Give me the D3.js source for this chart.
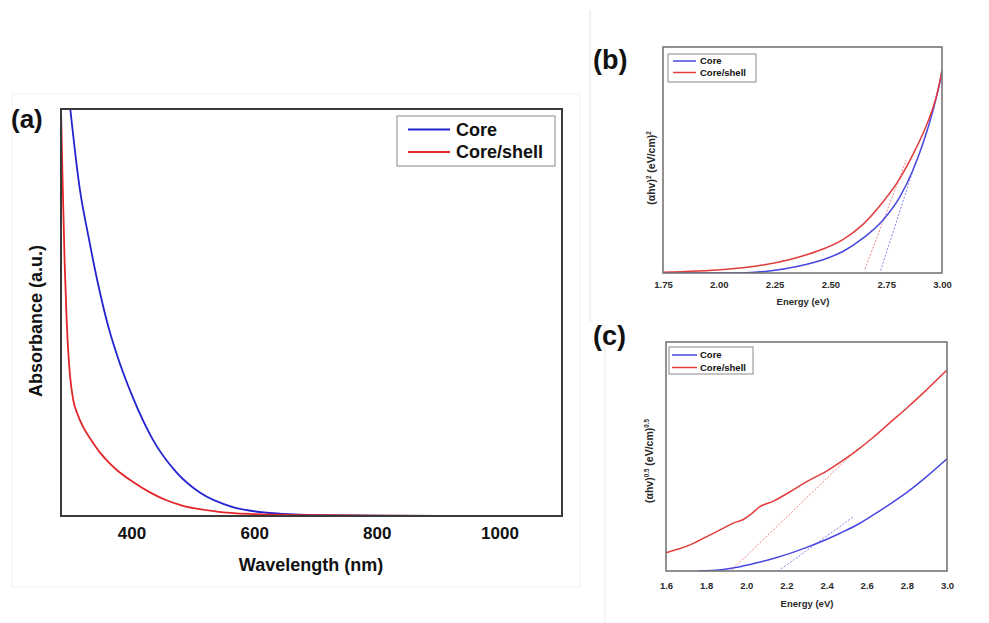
<!DOCTYPE html>
<html>
<head>
<meta charset="utf-8">
<script src="https://cdn.jsdelivr.net/npm/d3@7"></script>
<style>
  html, body { margin: 0; padding: 0; background: #fff; }
  svg { display: block; font-family: "Liberation Sans", Arial, sans-serif; }
</style>
</head>
<body>
<svg id="fig" width="989" height="623"></svg>
<script>
// ---- (a) UV-Vis absorbance spectra ----
const wlTicks = [400, 600, 800, 1000];
const coreWl  = [298, 316, 330, 344, 365, 376, 402, 435, 474, 512, 565, 621, 647, 700, 800, 900];
const coreAbs = [1.03, 0.80, 0.685, 0.58, 0.45, 0.397, 0.292, 0.187, 0.106, 0.057, 0.022, 0.008, 0.005, 0.002, 0.001, 0.0];
const shellWl  = [285, 288, 291, 294, 297, 300, 305, 312, 321, 335, 349, 362, 376, 402, 430, 458, 484, 539, 593, 675, 800, 900];
const shellAbs = [1.0, 0.80, 0.62, 0.49, 0.40, 0.34, 0.285, 0.25, 0.219, 0.185, 0.155, 0.133, 0.113, 0.084, 0.058, 0.038, 0.025, 0.011, 0.005, 0.002, 0.001, 0.0];

// ---- (b) Tauc plot, (αhν)^2 ----
const bTicks = [1.75, 2.00, 2.25, 2.50, 2.75, 3.00];
const bCoreE  = [1.75, 2.095, 2.243, 2.35, 2.467, 2.556, 2.646, 2.736, 2.812, 2.87, 2.915, 2.96, 3.0];
const bCoreY  = [0, 0.0, 0.011, 0.029, 0.059, 0.095, 0.154, 0.235, 0.338, 0.456, 0.574, 0.72, 0.883];
const bShellE = [1.75, 2.019, 2.171, 2.319, 2.40, 2.467, 2.556, 2.646, 2.736, 2.812, 2.87, 2.933, 2.977, 3.0];
const bShellY = [0.003, 0.015, 0.031, 0.060, 0.083, 0.106, 0.148, 0.215, 0.315, 0.42, 0.525, 0.66, 0.79, 0.897];
const bCoreFit  = [[2.725, 0.011], [2.885, 0.50]];
const bShellFit = [[2.655, 0.018], [2.84, 0.50]];

// ---- (c) Tauc plot, (αhν)^0.5 ----
const cTicks = [1.6, 1.8, 2.0, 2.2, 2.4, 2.6, 2.8, 3.0];
const cCoreE  = [1.76, 1.886, 1.969, 2.052, 2.135, 2.218, 2.301, 2.384, 2.467, 2.55, 2.633, 2.716, 2.8, 2.882, 3.0];
const cCoreY  = [0, 0.007, 0.019, 0.036, 0.055, 0.077, 0.103, 0.132, 0.165, 0.201, 0.245, 0.292, 0.343, 0.40, 0.49];
const cShellE = [1.6, 1.72, 1.803, 1.886, 1.935, 1.985, 2.019, 2.068, 2.135, 2.218, 2.301, 2.4, 2.483, 2.55, 2.633, 2.716, 2.8, 2.882, 3.0];
const cShellY = [0.080, 0.114, 0.150, 0.187, 0.209, 0.225, 0.245, 0.281, 0.305, 0.346, 0.390, 0.436, 0.484, 0.526, 0.584, 0.648, 0.712, 0.778, 0.878];
const cCoreFit  = [[2.159, 0.0], [2.534, 0.237]];
const cShellFit = [[1.927, 0.004], [2.558, 0.537]];

const seriesNames = ["Core", "Core/shell"];

const svg = d3.select("#fig");
const zip = (xs, ys) => xs.map((x, i) => [x, ys[i]]);

// faint page frames
svg.append("rect").attr("x", 12).attr("y", 94).attr("width", 568).attr("height", 493)
  .attr("fill", "none").attr("stroke", "#efefef").attr("stroke-width", 1);
svg.append("line").attr("x1", 590).attr("x2", 590).attr("y1", 10).attr("y2", 322)
  .attr("stroke", "#e2e2e2");
svg.append("line").attr("x1", 605).attr("x2", 605).attr("y1", 325).attr("y2", 623)
  .attr("stroke", "#ececec");

function panel(cfg) {
  const x = d3.scaleLinear().domain(cfg.xDomain).range([cfg.left, cfg.right]);
  const y = d3.scaleLinear().domain(cfg.yDomain).range([cfg.bottom, cfg.top]);
  const g = svg.append("g");
  const clipId = "clip-" + cfg.id;
  g.append("clipPath").attr("id", clipId).append("rect")
    .attr("x", cfg.left).attr("y", cfg.top)
    .attr("width", cfg.right - cfg.left).attr("height", cfg.bottom - cfg.top);

  const line = d3.line().x(d => x(d[0])).y(d => y(d[1])).curve(d3.curveMonotoneX);
  const plot = g.append("g").attr("clip-path", `url(#${clipId})`);

  (cfg.fits || []).forEach(f => {
    plot.append("path").datum(f.pts)
      .attr("d", d3.line().x(d => x(d[0])).y(d => y(d[1])))
      .attr("fill", "none").attr("stroke", f.color).attr("stroke-width", 1)
      .attr("stroke-dasharray", "2,1.6").attr("opacity", 0.75);
  });
  cfg.series.forEach(s => {
    plot.append("path").datum(s.pts).attr("d", line)
      .attr("fill", "none").attr("stroke", s.color).attr("stroke-width", cfg.lw)
      .attr("stroke-linejoin", "round");
  });

  // frame
  g.append("rect").attr("x", cfg.left).attr("y", cfg.top)
    .attr("width", cfg.right - cfg.left).attr("height", cfg.bottom - cfg.top)
    .attr("fill", "none").attr("stroke", cfg.frameColor).attr("stroke-width", cfg.frameWidth);

  // x axis labels (no tick marks)
  const ax = d3.axisBottom(x).tickValues(cfg.ticks).tickSize(0).tickFormat(cfg.fmt);
  const axG = g.append("g").attr("transform", `translate(0,${cfg.bottom})`).call(ax);
  axG.select(".domain").remove();
  axG.selectAll("text").attr("dy", null).attr("y", cfg.tickY - cfg.bottom)
    .attr("font-family", "Liberation Sans, Arial, sans-serif")
    .attr("font-size", cfg.tickSize).attr("font-weight", "bold").attr("fill", cfg.textColor);

  // axis titles
  g.append("text").attr("x", cfg.xTitlePos[0]).attr("y", cfg.xTitlePos[1])
    .attr("text-anchor", "middle").attr("font-size", cfg.titleSize).attr("font-weight", "bold")
    .attr("fill", cfg.textColor).text(cfg.xTitle);
  const yt = g.append("text")
    .attr("transform", `translate(${cfg.yTitlePos[0]},${cfg.yTitlePos[1]}) rotate(-90)`)
    .attr("text-anchor", "middle").attr("font-size", cfg.yTitleSize).attr("font-weight", "bold")
    .attr("fill", cfg.textColor);
  cfg.yTitle.forEach(part => {
    const t = yt.append("tspan").text(part.t);
    if (part.sup) t.attr("dy", -cfg.yTitleSize * 0.4).attr("font-size", cfg.yTitleSize * 0.6);
    else if (part.after) t.attr("dy", cfg.yTitleSize * 0.4);
  });

  // panel letter
  g.append("text").attr("x", cfg.letterPos[0]).attr("y", cfg.letterPos[1])
    .attr("font-size", cfg.letterSize).attr("font-weight", "bold").attr("fill", "#111")
    .text(cfg.letter);

  // legend
  const L = cfg.legend;
  g.append("rect").attr("x", L.x).attr("y", L.y).attr("width", L.w).attr("height", L.h)
    .attr("fill", "#fff").attr("stroke", "#8a8a8a").attr("stroke-width", 1);
  cfg.series.forEach((s, i) => {
    const ly = L.rowY[i];
    g.append("line").attr("x1", L.lx1).attr("x2", L.lx2).attr("y1", ly).attr("y2", ly)
      .attr("stroke", s.color).attr("stroke-width", cfg.lw);
    g.append("text").attr("x", L.tx).attr("y", ly + L.fs * 0.36)
      .attr("font-size", L.fs).attr("font-weight", "bold").attr("fill", "#111")
      .text(seriesNames[i]);
  });
}

panel({
  id: "a", left: 61, right: 562, top: 109, bottom: 516,
  xDomain: [285, 1102], yDomain: [0, 1],
  ticks: wlTicks, fmt: d3.format("d"), tickY: 539, tickSize: 17,
  lw: 1.8, frameColor: "#3a3a3a", frameWidth: 2, textColor: "#111",
  series: [
    { pts: zip(coreWl, coreAbs), color: "#2323cf" },
    { pts: zip(shellWl, shellAbs), color: "#e3262a" }
  ],
  xTitle: "Wavelength (nm)", xTitlePos: [311, 571], titleSize: 18,
  yTitle: [{ t: "Absorbance (a.u.)" }], yTitlePos: [42, 321], yTitleSize: 18,
  letter: "(a)", letterPos: [11, 128], letterSize: 26,
  legend: { x: 397, y: 116, w: 158, h: 50, lx1: 408, lx2: 450, tx: 456, rowY: [129.5, 152], fs: 18 }
});

panel({
  id: "b", left: 663, right: 942, top: 47, bottom: 273,
  xDomain: [1.75, 3.0], yDomain: [0, 1],
  ticks: bTicks, fmt: d3.format(".2f"), tickY: 288, tickSize: 9.5,
  lw: 1.5, frameColor: "#6e6e6e", frameWidth: 1.5, textColor: "#2a2a2a",
  series: [
    { pts: zip(bCoreE, bCoreY), color: "#4747df" },
    { pts: zip(bShellE, bShellY), color: "#e23c3c" }
  ],
  fits: [
    { pts: bCoreFit, color: "#5a5ae8" },
    { pts: bShellFit, color: "#ea5a5a" }
  ],
  xTitle: "Energy (eV)", xTitlePos: [803, 305], titleSize: 9.5,
  yTitle: [{ t: "(αhv)" }, { t: "2", sup: true }, { t: " (eV/cm)", after: true }, { t: "2", sup: true }],
  yTitlePos: [655, 168], yTitleSize: 10.5,
  letter: "(b)", letterPos: [593, 69], letterSize: 27,
  legend: { x: 668, y: 54, w: 88, h: 28, lx1: 673, lx2: 696, tx: 700, rowY: [61, 72.5], fs: 9.5 }
});

panel({
  id: "c", left: 666, right: 947, top: 342, bottom: 571,
  xDomain: [1.6, 3.0], yDomain: [0, 1],
  ticks: cTicks, fmt: d3.format(".1f"), tickY: 589, tickSize: 9.5,
  lw: 1.5, frameColor: "#6e6e6e", frameWidth: 1.5, textColor: "#2a2a2a",
  series: [
    { pts: zip(cCoreE, cCoreY), color: "#4747df" },
    { pts: zip(cShellE, cShellY), color: "#e23c3c" }
  ],
  fits: [
    { pts: cCoreFit, color: "#5a5ae8" },
    { pts: cShellFit, color: "#ea5a5a" }
  ],
  xTitle: "Energy (eV)", xTitlePos: [807, 606.5], titleSize: 9.5,
  yTitle: [{ t: "(αhv)" }, { t: "0.5", sup: true }, { t: " (eV/cm)", after: true }, { t: "0.5", sup: true }],
  yTitlePos: [653, 461], yTitleSize: 10.5,
  letter: "(c)", letterPos: [593, 345], letterSize: 27,
  legend: { x: 669, y: 347, w: 84, h: 27, lx1: 672, lx2: 697, tx: 700, rowY: [355, 367.5], fs: 9.5 }
});
</script>
</body>
</html>
